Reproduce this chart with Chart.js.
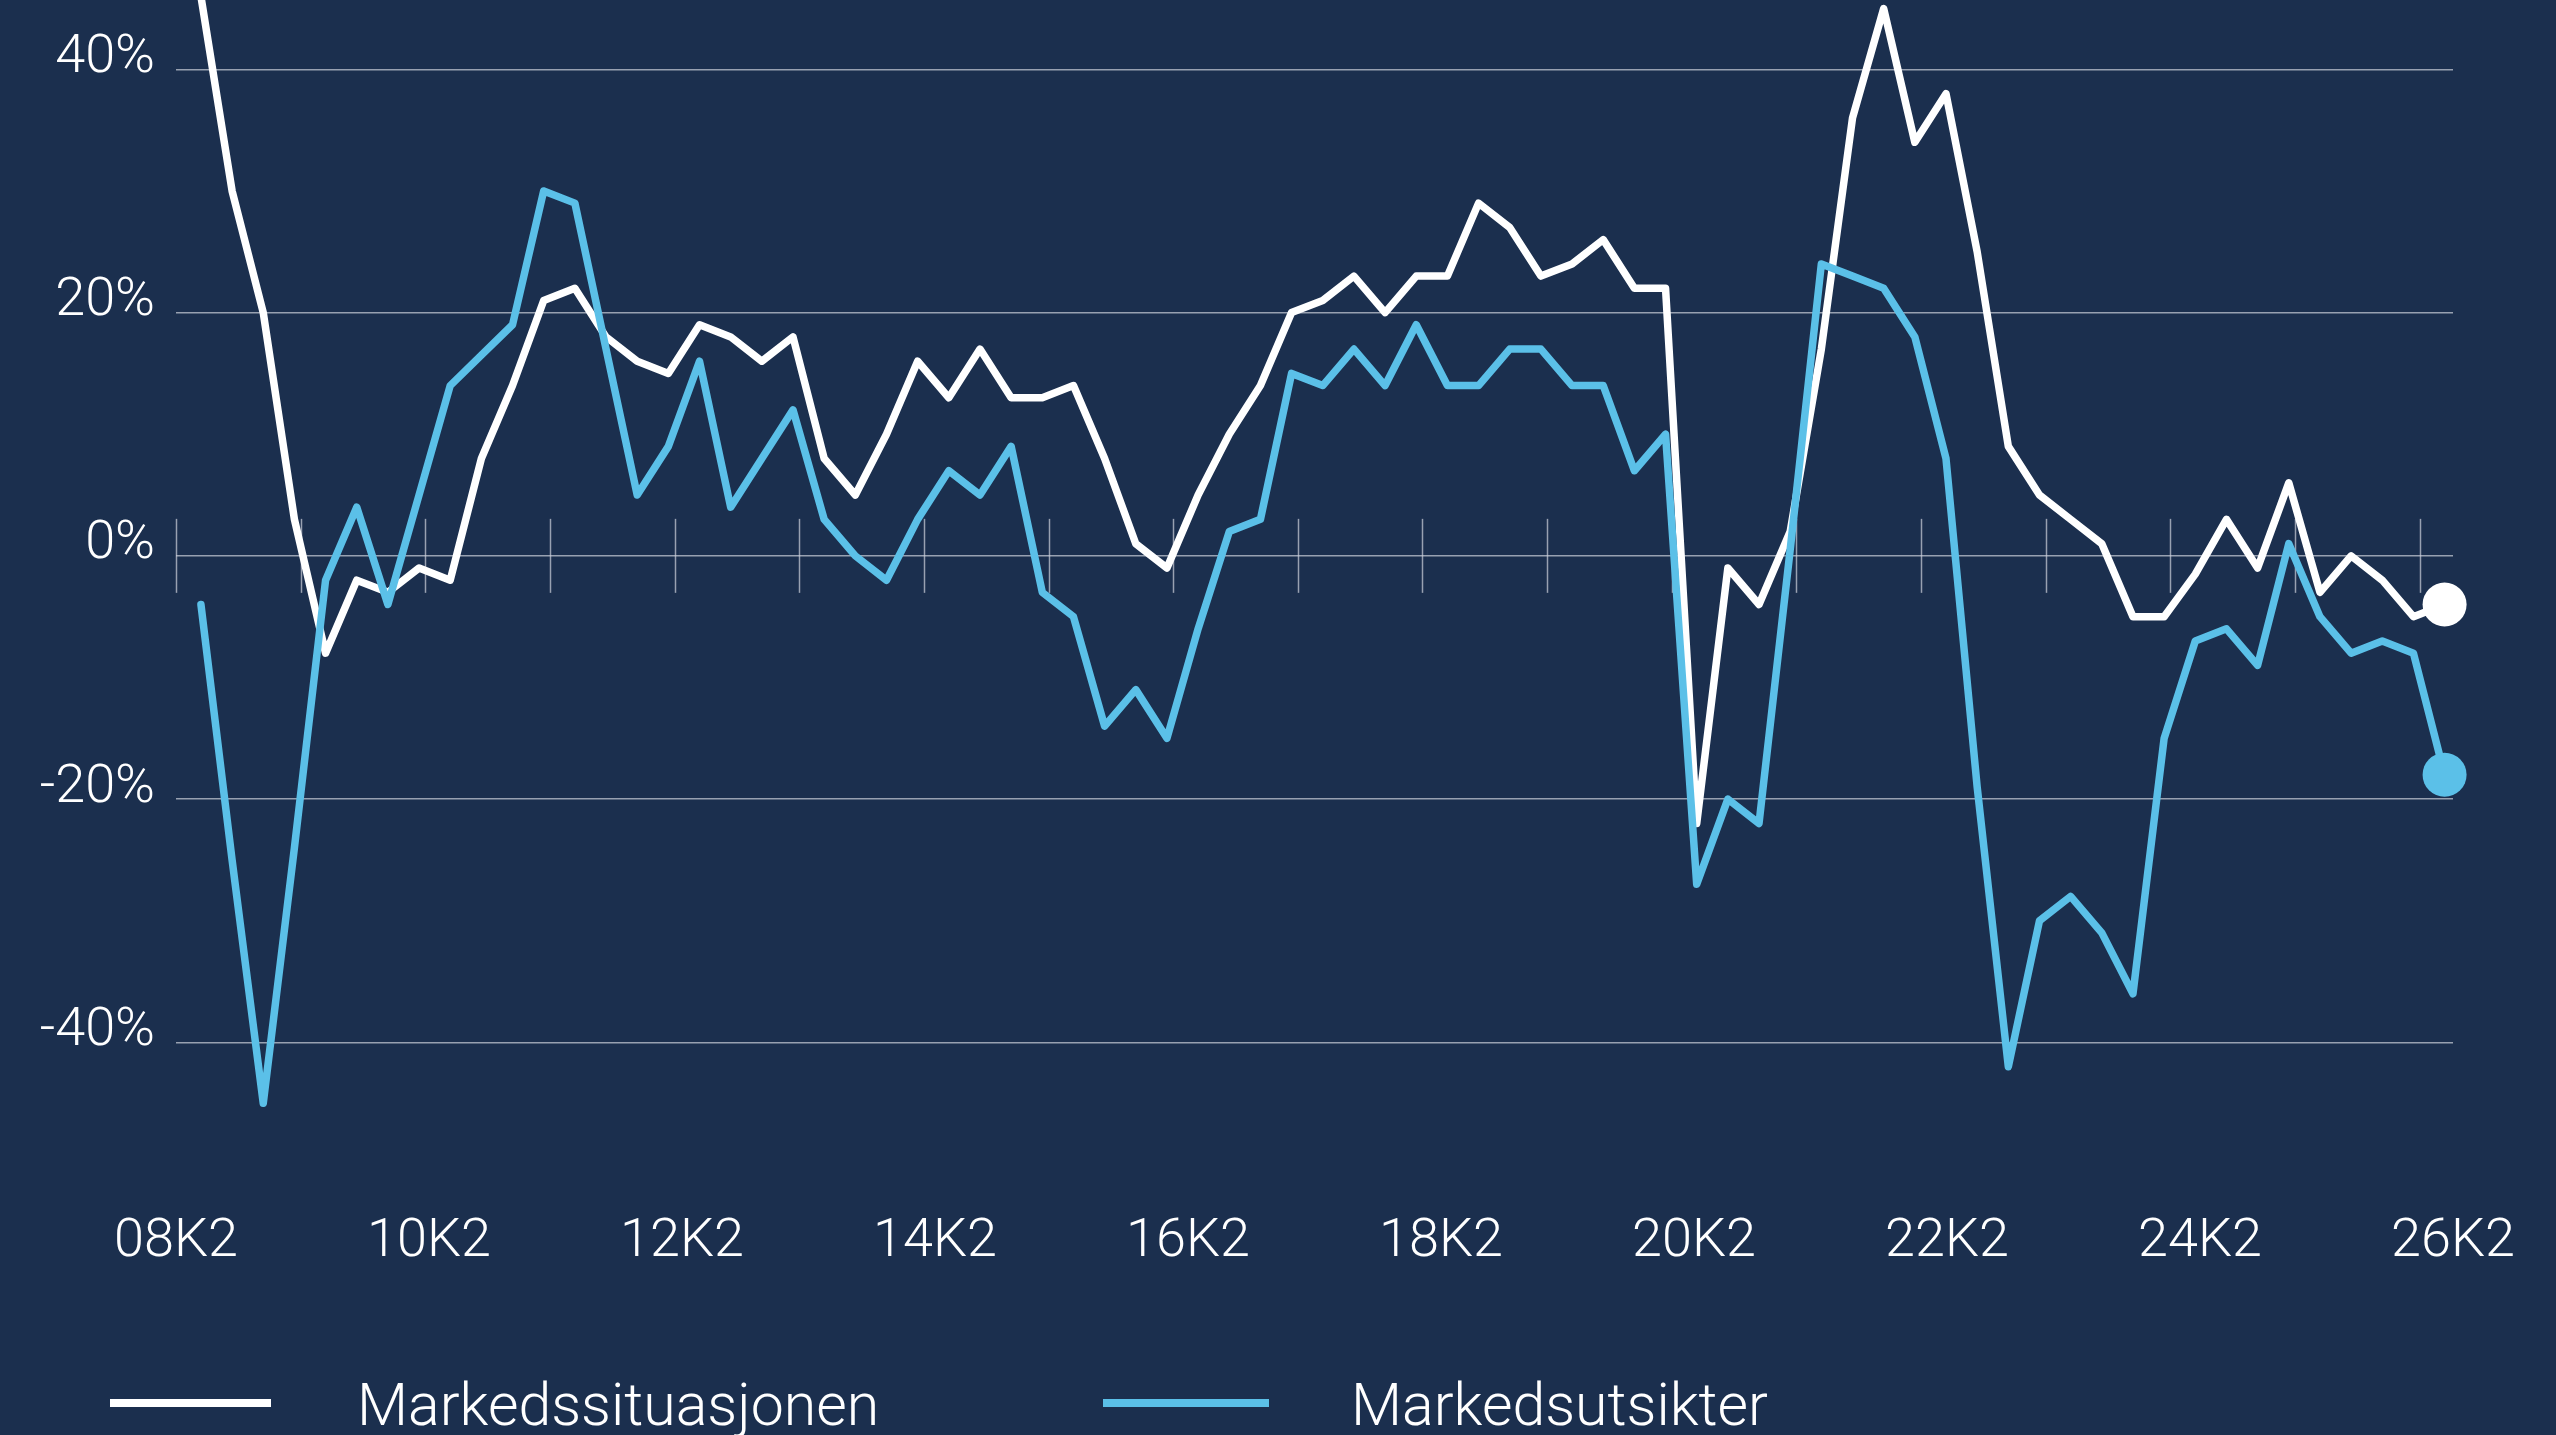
<!DOCTYPE html>
<html>
<head>
<meta charset="utf-8">
<script src="https://cdn.jsdelivr.net/npm/chart.js@4.4.1/dist/chart.umd.min.js"></script>
<style>
  html, body { margin: 0; padding: 0; background: #1b2f4e; overflow: hidden; }
  #wrap { position: relative; width: 2556px; height: 1435px; }
</style>
</head>
<body>
<div id="wrap"><canvas id="c"></canvas></div>
<script>
// ---- data -------------------------------------------------------------
const categories = [
  '08K2','08K3','08K4',
  '09K1','09K2','09K3','09K4',
  '10K1','10K2','10K3','10K4',
  '11K1','11K2','11K3','11K4',
  '12K1','12K2','12K3','12K4',
  '13K1','13K2','13K3','13K4',
  '14K1','14K2','14K3','14K4',
  '15K1','15K2','15K3','15K4',
  '16K1','16K2','16K3','16K4',
  '17K1','17K2','17K3','17K4',
  '18K1','18K2','18K3','18K4',
  '19K1','19K2','19K3','19K4',
  '20K1','20K2','20K3','20K4',
  '21K1','21K2','21K3','21K4',
  '22K1','22K2','22K3','22K4',
  '23K1','23K2','23K3','23K4',
  '24K1','24K2','24K3','24K4',
  '25K1','25K2','25K3','25K4',
  '26K1','26K2'
];

const markedssituasjonen = [
  46, 30, 20, 3, -8, -2, -3, -1, -2, 8,
  14, 21, 22, 18, 16, 15, 19, 18, 16, 18,
  8, 5, 10, 16, 13, 17, 13, 13, 14, 8,
  1, -1, 5, 10, 14, 20, 21, 23, 20, 23,
  23, 29, 27, 23, 24, 26, 22, 22, -22, -1,
  -4, 2, 17, 36, 45, 34, 38, 25, 9, 5,
  3, 1, -5, -5, -1.5, 3, -1, 6, -3, 0,
  -2, -5, -4
];

const markedsutsikter = [
  -4, -25, -45, -24, -2, 4, -4, 5, 14, 16.5,
  19, 30, 29, 17, 5, 9, 16, 4, 8, 12,
  3, 0, -2, 3, 7, 5, 9, -3, -5, -14,
  -11, -15, -6, 2, 3, 15, 14, 17, 14, 19,
  14, 14, 17, 17, 14, 14, 7, 10, -27, -20,
  -22, 0.5, 24, 23, 22, 18, 8, -19, -42, -30,
  -28, -31, -36, -15, -7, -6, -9, 1, -5, -8,
  -7, -8, -18
];

const tickLabels = ['08K2','10K2','12K2','14K2','16K2','18K2','20K2','22K2','24K2','26K2'];
const yTickValues = [-40, -20, 0, 20, 40];
const seriesNames = ['Markedssituasjonen', 'Markedsutsikter'];

// ---- layout / style ----------------------------------------------------
const X_MIN = -0.8, X_MAX = 72.27;
const Y_MIN = -50, Y_MAX = 45.7;
const GRID = 'rgba(205,210,220,0.7)';
const FONT = "Roboto, 'Helvetica Neue', Arial, sans-serif";
const WHITE = '#ffffff';
const BLUE = '#5bc0e8';

const toPoints = vals => vals.map((v, i) => ({ x: i, y: v }));
const lastDot = n => ctx => (ctx.dataIndex === n - 1 ? 22 : 0);

const yearTicks = {
  id: 'yearTicks',
  beforeDatasetsDraw(chart) {
    const xs = chart.scales.x, ys = chart.scales.y, ctx = chart.ctx;
    const y0 = ys.getPixelForValue(0);
    ctx.save();
    ctx.strokeStyle = GRID;
    ctx.lineWidth = 1.5;
    for (let k = 0; X_MIN + 4 * k <= X_MAX - 1; k++) {
      const px = Math.round(xs.getPixelForValue(X_MIN + 4 * k)) + 0.5;
      ctx.beginPath();
      ctx.moveTo(px, y0 - 37);
      ctx.lineTo(px, y0 + 37);
      ctx.stroke();
    }
    ctx.restore();
  }
};

const lineLegend = {
  id: 'lineLegend',
  afterDraw(chart, args, opts) {
    const ctx = chart.ctx;
    ctx.save();
    chart.data.datasets.forEach((ds, i) => {
      const it = opts.items[i];
      ctx.strokeStyle = ds.borderColor;
      ctx.lineWidth = opts.lineWidth;
      ctx.lineCap = 'butt';
      ctx.beginPath();
      ctx.moveTo(it.x, opts.lineY);
      ctx.lineTo(it.x + it.len, opts.lineY);
      ctx.stroke();
      ctx.fillStyle = opts.color;
      ctx.font = opts.font;
      ctx.textAlign = 'left';
      ctx.textBaseline = 'alphabetic';
      ctx.fillText(ds.label, it.textX, opts.baseline);
    });
    ctx.restore();
  }
};

new Chart(document.getElementById('c'), {
  type: 'line',
  data: {
    datasets: [
      {
        label: seriesNames[0],
        data: toPoints(markedssituasjonen),
        borderColor: WHITE,
        backgroundColor: WHITE,
        borderWidth: 7.5,
        borderJoinStyle: 'round',
        borderCapStyle: 'round',
        tension: 0,
        clip: false,
        pointRadius: lastDot(markedssituasjonen.length),
        pointHoverRadius: lastDot(markedssituasjonen.length),
        pointBackgroundColor: WHITE,
        pointBorderWidth: 0,
        order: 1
      },
      {
        label: seriesNames[1],
        data: toPoints(markedsutsikter),
        borderColor: BLUE,
        backgroundColor: BLUE,
        borderWidth: 7.5,
        borderJoinStyle: 'round',
        borderCapStyle: 'round',
        tension: 0,
        clip: false,
        pointRadius: lastDot(markedsutsikter.length),
        pointHoverRadius: lastDot(markedsutsikter.length),
        pointBackgroundColor: BLUE,
        pointBorderWidth: 0,
        order: 0
      }
    ]
  },
  options: {
    responsive: true,
    maintainAspectRatio: false,
    animation: false,
    devicePixelRatio: 1,
    events: [],
    layout: { autoPadding: false, padding: { left: 0, right: 103, top: 0, bottom: 0 } },
    plugins: {
      legend: { display: false },
      tooltip: { enabled: false },
      lineLegend: {
        items: [
          { x: 110, len: 161, textX: 357 },
          { x: 1103, len: 166, textX: 1351 }
        ],
        lineY: 1403,
        lineWidth: 8,
        baseline: 1425,
        color: '#ffffff',
        font: "300 59px " + FONT
      }
    },
    scales: {
      x: {
        type: 'linear',
        min: X_MIN,
        max: X_MAX,
        grid: { display: false, drawTicks: false },
        border: { display: false },
        afterBuildTicks: s => {
          s.ticks = tickLabels.map((_, k) => ({ value: X_MIN + k * (X_MAX - X_MIN) / (tickLabels.length - 1) }));
        },
        afterFit: s => { s.height = 271; s.paddingLeft = 0; s.paddingRight = 0; },
        ticks: {
          autoSkip: false,
          maxRotation: 0,
          minRotation: 0,
          padding: 46,
          color: '#ffffff',
          font: { family: FONT, size: 54, weight: 300 },
          callback: (v, i) => tickLabels[i]
        }
      },
      y: {
        type: 'linear',
        min: Y_MIN,
        max: Y_MAX,
        grid: { color: GRID, lineWidth: 1.5, drawTicks: false },
        border: { display: false },
        afterBuildTicks: s => { s.ticks = yTickValues.map(v => ({ value: v })); },
        afterFit: s => { s.width = 176; s.paddingTop = 0; s.paddingBottom = 0; },
        ticks: {
          padding: 21,
          labelOffset: -11,
          color: '#ffffff',
          font: { family: FONT, size: 54, weight: 300 },
          callback: v => v + '%'
        }
      }
    }
  },
  plugins: [yearTicks, lineLegend]
});
</script>
</body>
</html>
